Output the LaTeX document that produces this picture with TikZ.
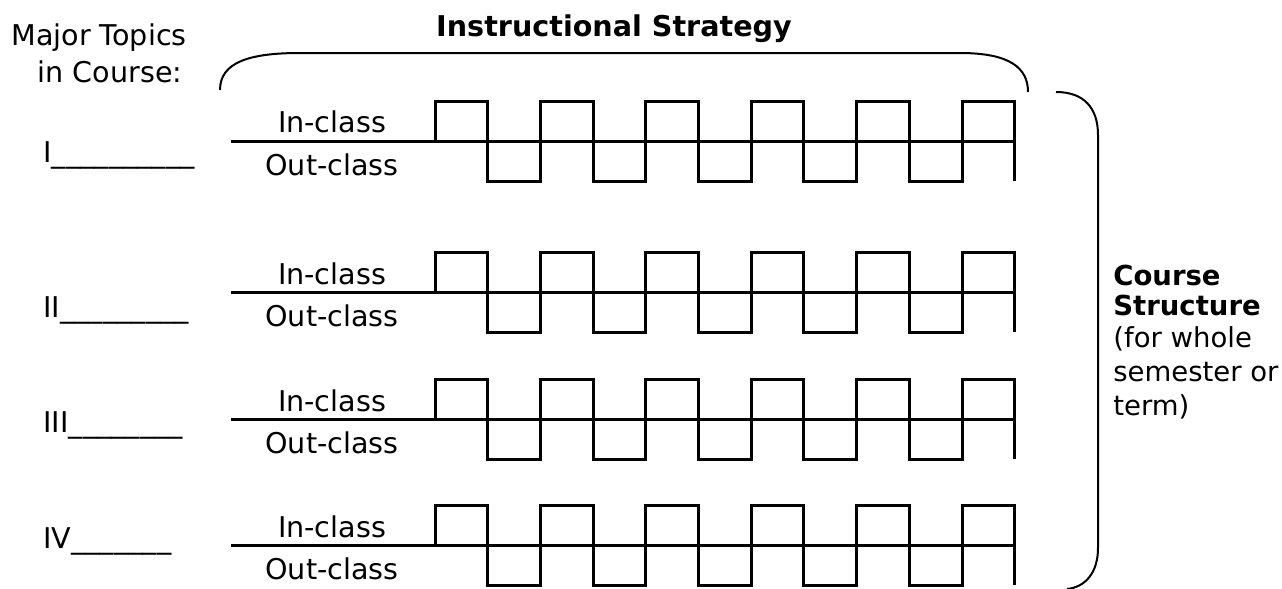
\documentclass[tikz,border=0pt]{standalone}
\usepackage{fontspec}
\setmainfont{DejaVu Sans}

\begin{document}
\begin{tikzpicture}[x=0.5pt,y=-0.5pt]

      \tikzset{txt/.style={font=\fontsize{14.3}{17}\selectfont, inner sep=0pt},
               side/.style={font=\fontsize{13.75}{17}\selectfont, inner sep=0pt},
               wave/.style={line width=1.5pt, line join=miter},
               curly/.style={line width=1pt}}

      \useasboundingbox (0,0) rectangle (1282,589);

      % headings
      \begin{scope}[every node/.style={txt, anchor=base}]
        \node (mt)  at (99,46)  {Major Topics};
        \node (ic)  at (110,83) {in Course:};
        \node (is)  at (614,37) {\bfseries Instructional Strategy};
      \end{scope}

      % topic rows
      \foreach \y/\n/\b/\r in {141/1/162/I\_\_\_\_\_\_\_\_\_\_, 292/2/317/II\_\_\_\_\_\_\_\_\_,
                               419/3/432/III\_\_\_\_\_\_\_\_, 545/4/548/IV\_\_\_\_\_\_\_} {
        \node[txt, anchor=base west] (r\n)   at (43,\b)      {\r};
        \node[txt, anchor=base]      (in\n)  at (332,\y-8)   {In-class};
        \node[txt, anchor=base]      (out\n) at (332,\y+34)  {Out-class};
        \coordinate (a\n) at (231,\y);
        \coordinate (b\n) at (1015,\y);
        \draw[wave] (a\n) -- (b\n);
        \draw[wave] (435,\y) -- ++(0,-40)
          \foreach \k in {1,...,5} { -- ++(52.7,0) -- ++(0,80) -- ++(52.7,0) -- ++(0,-80) }
          -- ++(52.7,0) -- ++(0,80);
      }

      % brackets
      \draw[curly] (220,90) .. controls (220,62) and (250,53) .. (300,53)
        -- (960,53) .. controls (1010,53) and (1028,68) .. (1028,92);
      \draw[curly] (1056,92) .. controls (1084,92) and (1098,108) .. (1098,135)
        -- (1098,548) .. controls (1098,572) and (1086,587) .. (1067,589);

      % side text
      \begin{scope}[every node/.style={side, anchor=base west}]
        \node (cs1) at (1113,285) {\bfseries Course};
        \node (cs2) at (1113,315) {\bfseries Structure};
        \node (cs3) at (1113,347) {(for whole};
        \node (cs4) at (1113,381) {semester or};
        \node (cs5) at (1113,415) {term)};
      \end{scope}

    \end{tikzpicture}
\end{document}
